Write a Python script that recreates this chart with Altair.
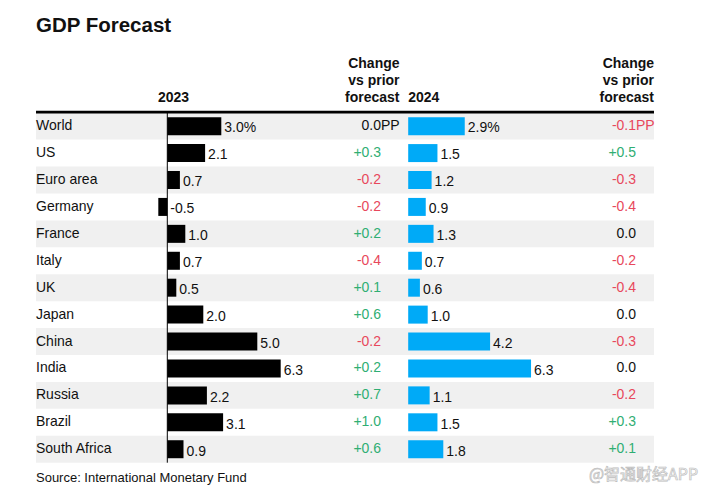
import altair as alt
import pandas as pd

countries = ["World", "US", "Euro area", "Germany", "France", "Italy", "UK",
             "Japan", "China", "India", "Russia", "Brazil", "South Africa"]
gdp_2023 = [3.0, 2.1, 0.7, -0.5, 1.0, 0.7, 0.5, 2.0, 5.0, 6.3, 2.2, 3.1, 0.9]
chg_2023 = [0.0, 0.3, -0.2, -0.2, 0.2, -0.4, 0.1, 0.6, -0.2, 0.2, 0.7, 1.0, 0.6]
gdp_2024 = [2.9, 1.5, 1.2, 0.9, 1.3, 0.7, 0.6, 1.0, 4.2, 6.3, 1.1, 1.5, 1.8]
chg_2024 = [-0.1, 0.5, -0.3, -0.4, 0.0, -0.2, -0.4, 0.0, -0.3, 0.0, -0.2, 0.3, 0.1]

FONT = "Liberation Sans, Arial, Helvetica, sans-serif"
W, H = 618, 350
GREEN, RED, BLACK, BLUE, GRAY = "#2fae73", "#e8485c", "#111111", "#00aaf7", "#f0f0f0"


def fmt_chg(v):
    if v > 0:
        return "+%.1f" % v
    if v < 0:
        return "-%.1f" % abs(v)
    return "0.0"


def sign(v):
    return "pos" if v > 0 else ("neg" if v < 0 else "zero")


df = pd.DataFrame({
    "country": countries,
    "idx": list(range(len(countries))),
    "v23": gdp_2023,
    "c23": chg_2023,
    "v24": gdp_2024,
    "c24": chg_2024,
})
df["stripe"] = df["idx"] % 2 == 0
df["lab23"] = ["%.1f%%" % v if c == "World" else "%.1f" % v for c, v in zip(df.country, df.v23)]
df["lab24"] = ["%.1f%%" % v if c == "World" else "%.1f" % v for c, v in zip(df.country, df.v24)]
df["pos23"] = df["v23"].clip(lower=0)
df["pos24"] = df["v24"].clip(lower=0)
df["t_c23"] = [fmt_chg(v) for v in df.c23]
df["t_c24"] = [fmt_chg(v) for v in df.c24]
df["s_c23"] = [sign(v) for v in df.c23]
df["s_c24"] = [sign(v) for v in df.c24]

y_enc = alt.Y("country:N", sort=countries, axis=None,
              scale=alt.Scale(paddingInner=0, paddingOuter=0))
color_scale = alt.Scale(domain=["pos", "neg", "zero"], range=[GREEN, RED, BLACK])

x23 = alt.Scale(domain=[0, 10], range=[131.3, 311.3], nice=False, zero=False)
x24 = alt.Scale(domain=[0, 10], range=[372.2, 567.2], nice=False, zero=False)

base = alt.Chart(df)

stripes = base.transform_filter(alt.datum.stripe).mark_rect(color=GRAY).encode(
    y=y_enc, x=alt.value(0), x2=alt.value(W))

header_rule = alt.Chart(pd.DataFrame({"a": [0]})).mark_rule(
    color="#000000", strokeWidth=2.6).encode(
    x=alt.value(0), x2=alt.value(W), y=alt.value(-0.6))

country_txt = base.mark_text(align="left", baseline="alphabetic", dy=4,
                             font=FONT, fontSize=14, color=BLACK).encode(
    y=y_enc, x=alt.value(0), text="country:N")

bars23 = base.mark_bar(color="#000000", height=18).encode(
    y=y_enc, x=alt.X("v23:Q", scale=x23, axis=None))
zero23 = alt.Chart(pd.DataFrame({"z": [0]})).mark_rule(
    color="#000000", strokeWidth=1).encode(
    x=alt.X("z:Q", scale=x23, axis=None), y=alt.value(0), y2=alt.value(H))
lab23 = base.mark_text(align="left", baseline="alphabetic", dx=3, dy=6.3,
                       font=FONT, fontSize=14, color=BLACK).encode(
    y=y_enc, x=alt.X("pos23:Q", scale=x23, axis=None), text="lab23:N")

bars24 = base.mark_bar(color=BLUE, height=18).encode(
    y=y_enc, x=alt.X("v24:Q", scale=x24, axis=None))
lab24 = base.mark_text(align="left", baseline="alphabetic", dx=3, dy=6.3,
                       font=FONT, fontSize=14, color=BLACK).encode(
    y=y_enc, x=alt.X("pos24:Q", scale=x24, axis=None), text="lab24:N")

chg23 = base.mark_text(align="right", baseline="alphabetic", dy=4,
                       font=FONT, fontSize=14).encode(
    y=y_enc, x=alt.value(345), text="t_c23:N",
    color=alt.Color("s_c23:N", scale=color_scale, legend=None))
chg24 = base.mark_text(align="right", baseline="alphabetic", dy=4,
                       font=FONT, fontSize=14).encode(
    y=y_enc, x=alt.value(600), text="t_c24:N",
    color=alt.Color("s_c24:N", scale=color_scale, legend=None))

world = base.transform_filter(alt.datum.country == "World")
pp23 = world.mark_text(align="left", baseline="alphabetic", dy=4,
                       font=FONT, fontSize=14).encode(
    y=y_enc, x=alt.value(345), text=alt.value("PP"),
    color=alt.Color("s_c23:N", scale=color_scale, legend=None))
pp24 = world.mark_text(align="left", baseline="alphabetic", dy=4,
                       font=FONT, fontSize=14).encode(
    y=y_enc, x=alt.value(600), text=alt.value("PP"),
    color=alt.Color("s_c24:N", scale=color_scale, legend=None))

one = pd.DataFrame({"a": [0]})


def note(text, x, y, align="left", size=14, weight="bold", color=BLACK, font=FONT, **kw):
    return alt.Chart(one).mark_text(align=align, baseline="alphabetic", font=font,
                                    fontSize=size, fontWeight=weight, color=color,
                                    **kw).encode(
        x=alt.value(x), y=alt.value(y), text=alt.value(text))


headers = [
    note("GDP Forecast", 0, -81, size=20.5),
    note("2023", 122, -11),
    note("Change", 363.5, -44.4, align="right"),
    note("vs prior", 363.5, -27.7, align="right"),
    note("forecast", 363.5, -11, align="right"),
    note("2024", 372.2, -11),
    note("Change", 618, -44.4, align="right"),
    note("vs prior", 618, -27.7, align="right"),
    note("forecast", 618, -11, align="right"),
    note("Source: International Monetary Fund", 0, 369, size=13, weight="normal"),
    note("@智通财经APP", 553, 367, size=16, weight="normal", color="#ffffff",
         font="Noto Sans CJK SC", stroke="#bcbcbc", strokeWidth=0.7),
]

chart = alt.layer(
    stripes, header_rule, country_txt,
    bars23, zero23, lab23, bars24, lab24,
    chg23, chg24, pp23, pp24, *headers,
).resolve_scale(x="independent").properties(
    width=W, height=H,
    padding={"left": 28, "top": 104.7, "right": 45, "bottom": 25},
    autosize=alt.AutoSizeParams(type="none"),
    background="#ffffff",
).configure_view(stroke=None)

chart.save("out.html", embed_options={"renderer": "svg", "actions": False})
